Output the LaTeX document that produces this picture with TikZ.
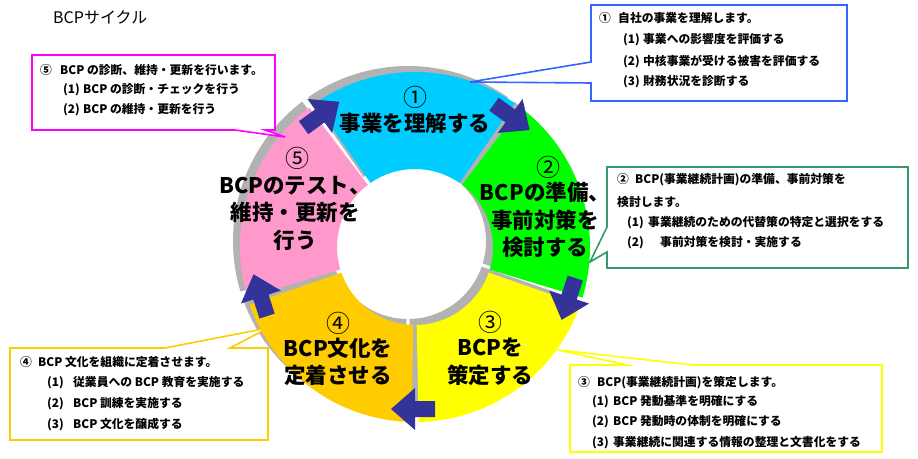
\documentclass[tikz,border=0pt]{standalone}
\usepackage{fontspec}
\setmainfont{Noto Sans CJK JP}
\definecolor{segone}{HTML}{00CCFF}
\definecolor{segtwo}{HTML}{00FF00}
\definecolor{segthree}{HTML}{FFFF00}
\definecolor{segfour}{HTML}{FFCC00}
\definecolor{segfive}{HTML}{FF99CC}
\definecolor{navy}{HTML}{333399}
\definecolor{noteone}{HTML}{3366FF}
\definecolor{notetwo}{HTML}{339966}
\definecolor{notefive}{HTML}{FF00FF}

\tikzset{
  every node/.style={inner sep=0pt},
  ringtext/.style={font=\bfseries\fontsize{21.5}{27.5}\selectfont, align=center},
  ringnum/.style={font=\fontsize{24}{24}\selectfont},
  boxtext/.style={anchor=west, font=\bfseries\fontsize{11.8}{13}\selectfont},
  callout/.style={fill=white, line width=1.6pt, line join=miter},
  shade/.style={fill=gray!60}
}
\newcommand{\ringpart}[2]{(#1:175) arc[start angle=#1, end angle=#2, radius=175] -- (#2:78) arc[start angle=#2, end angle=#1, radius=78] -- cycle}

\begin{document}
\begin{tikzpicture}[x=1pt,y=1pt]
  \useasboundingbox (0,0) rectangle (918,458);

  \node [anchor=west, font=\fontsize{16}{16}\selectfont] (title) at (53,441) {BCPサイクル};

  % ring
  \begin{scope}[shift={(415,211)}]
    \foreach \a/\b in {55.2/124.8,-16.8/52.8,-88.8/-19.2,-160.8/-91.2,127.2/196.8}
      \fill [shade, shift={(-7,6)}] \ringpart{\a}{\b};
    \foreach \a/\b/\c in {55.2/124.8/segone,-16.8/52.8/segtwo,-88.8/-19.2/segthree,-160.8/-91.2/segfour,127.2/196.8/segfive}
      \fill [\c] \ringpart{\a}{\b};
    \foreach \a in {126,54,-18,-90,-162}
      \fill [navy, shift={(\a:162)}, rotate=\a-90] (-20,-8) -- (0,-8) -- (0,-21) -- (24,0) -- (0,21) -- (0,8) -- (-20,8) -- cycle;
  \end{scope}

  \node [ringnum] (num1) at (415,361) {①};
  \node [ringtext] (lab1) at (415,335) {事業を理解する};
  \node [ringnum] (num2) at (548,291) {②};
  \node [ringtext] (lab2) at (545,238) {BCPの準備、\\事前対策を\\検討する};
  \node [ringnum] (num3) at (490,136) {③};
  \node [ringtext] (lab3) at (490,96) {BCPを\\策定する};
  \node [ringnum] (num4) at (338,135) {④};
  \node [ringtext] (lab4) at (338,96) {BCP文化を\\定着させる};
  \node [ringnum] (num5) at (297,300) {⑤};
  \node [ringtext] (lab5) at (295,245) {BCPのテスト、\\維持・更新を\\行う};

  % callouts
  \coordinate (tip1) at (470,376);
  \coordinate (tip2) at (590,196);
  \coordinate (tip3) at (558,108);
  \coordinate (tip4) at (268,130);
  \coordinate (tip5) at (285,321);

  \draw [callout, draw=noteone] (591,396) -- (591,453) -- (847,453) -- (847,357) -- (591,357) -- (591,375) -- (tip1) -- cycle;
  \draw [callout, draw=notetwo] (607,231) -- (607,291) -- (908,291) -- (908,190) -- (607,190) -- (607,206) -- (tip2) -- cycle;
  \draw [callout, draw=segthree] (627,93) -- (tip3) -- (693,93) -- (882,93) -- (882,6) -- (570,6) -- (570,93) -- cycle;
  \draw [callout, draw=segfour] (10,110) -- (165,110) -- (tip4) -- (230,110) -- (268,110) -- (268,18) -- (10,18) -- cycle;
  \draw [callout, draw=notefive] (32,403) -- (275,403) -- (275,328) -- (265,328) -- (tip5) -- (235,328) -- (32,328) -- cycle;

  \node [boxtext] (note1a) at (599,440) {\makebox[19pt][l]{①}自社の事業を理解します。};
  \node [boxtext] (note1b) at (623,418) {\makebox[20pt][l]{(1)}事業への影響度を評価する};
  \node [boxtext] (note1c) at (623,396) {\makebox[20pt][l]{(2)}中核事業が受ける被害を評価する};
  \node [boxtext] (note1d) at (623,376) {\makebox[20pt][l]{(3)}財務状況を診断する};

  \node [boxtext] (note2a) at (617,278) {\makebox[18pt][l]{②}BCP(事業継続計画)の準備、事前対策を};
  \node [boxtext] (note2b) at (617,256) {検討します。};
  \node [boxtext] (note2c) at (627,235) {\makebox[21pt][l]{(1)}事業継続のための代替策の特定と選択をする};
  \node [boxtext] (note2d) at (627,215) {\makebox[33pt][l]{(2)}事前対策を検討・実施する};

  \node [boxtext] (note3a) at (578,75) {\makebox[19pt][l]{③}BCP(事業継続計画)を策定します。};
  \node [boxtext] (note3b) at (592,56) {\makebox[21pt][l]{(1)}BCP 発動基準を明確にする};
  \node [boxtext] (note3c) at (592,36) {\makebox[21pt][l]{(2)}BCP 発動時の体制を明確にする};
  \node [boxtext] (note3d) at (592,15) {\makebox[21pt][l]{(3)}事業継続に関連する情報の整理と文書化をする};

  \node [boxtext] (note4a) at (20,96) {\makebox[18pt][l]{④}BCP 文化を組織に定着させます。};
  \node [boxtext] (note4b) at (47,75) {\makebox[26pt][l]{(1)}従業員への BCP 教育を実施する};
  \node [boxtext] (note4c) at (47,54) {\makebox[26pt][l]{(2)}BCP 訓練を実施する};
  \node [boxtext] (note4d) at (47,33) {\makebox[26pt][l]{(3)}BCP 文化を醸成する};

  \node [boxtext] (note5a) at (40,388) {\makebox[20pt][l]{⑤}BCP の診断、維持・更新を行います。};
  \node [boxtext] (note5b) at (63,368) {\makebox[20pt][l]{(1)}BCP の診断・チェックを行う};
  \node [boxtext] (note5c) at (63,348) {\makebox[20pt][l]{(2)}BCP の維持・更新を行う};
\end{tikzpicture}
\end{document}
